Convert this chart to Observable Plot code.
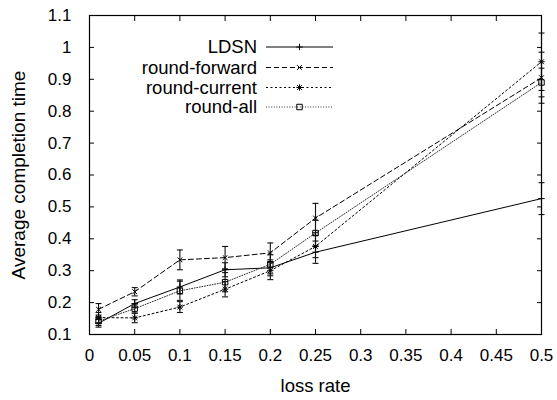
<!DOCTYPE html>
<html>
<head>
<meta charset="utf-8">
<script src="https://cdn.jsdelivr.net/npm/d3@7"></script>
<script src="https://cdn.jsdelivr.net/npm/@observablehq/plot@0.6"></script>
<style>
  html, body { margin: 0; padding: 0; background: #fff; }
  #wrap { position: relative; width: 557px; height: 400px; }
  #wrap svg { position: absolute; left: 0; top: 0; }
</style>
</head>
<body>
<div id="wrap"></div>
<script>
// ---- data ----
const lossRates = [0.01, 0.05, 0.1, 0.15, 0.2, 0.25, 0.5];
const seriesNames = ["LDSN", "round-forward", "round-current", "round-all"];
const ldsn        = [0.135, 0.197, 0.249, 0.303, 0.309, 0.358, 0.526];
const ldsnErr     = [0.012, 0.012, 0.022, 0.022, 0.025, 0.035, 0.05];
const roundForward    = [0.179, 0.234, 0.334, 0.341, 0.356, 0.465, 0.905];
const roundForwardErr = [0.018, 0.013, 0.031, 0.035, 0.031, 0.046, 0.08];
const roundCurrent    = [0.153, 0.152, 0.186, 0.242, 0.300, 0.376, 0.955];
const roundCurrentErr = [0.016, 0.015, 0.017, 0.024, 0.028, 0.035, 0.09];
const roundAll    = [0.142, 0.181, 0.237, 0.264, 0.320, 0.418, 0.890];
const roundAllErr = [0.014, 0.014, 0.03, 0.03, 0.03, 0.04, 0.045];
const xTicks = [0, 0.05, 0.1, 0.15, 0.2, 0.25, 0.3, 0.35, 0.4, 0.45, 0.5];
const yTicks = [0.1, 0.2, 0.3, 0.4, 0.5, 0.6, 0.7, 0.8, 0.9, 1, 1.1];
const xLabel = "loss rate";
const yLabel = "Average completion time";

// ---- custom stroke symbols ----
const rad = s => Math.sqrt(s / Math.PI);
const symPlus = {draw(c, s) { const r = rad(s); c.moveTo(-r, 0); c.lineTo(r, 0); c.moveTo(0, -r); c.lineTo(0, r); }};
const symTimes = {draw(c, s) { const r = rad(s) * 0.75; c.moveTo(-r, -r); c.lineTo(r, r); c.moveTo(-r, r); c.lineTo(r, -r); }};
const symStar = {draw(c, s) { const r = rad(s); const q = r * 0.75; c.moveTo(-r, 0); c.lineTo(r, 0); c.moveTo(0, -r); c.lineTo(0, r); c.moveTo(-q, -q); c.lineTo(q, q); c.moveTo(-q, q); c.lineTo(q, -q); }};
const symSquare = {draw(c, s) { const r = rad(s) * 0.85; c.moveTo(-r, -r); c.lineTo(r, -r); c.lineTo(r, r); c.lineTo(-r, r); c.closePath(); }};
const symCap = {draw(c, s) { const r = rad(s); c.moveTo(-r, 0); c.lineTo(r, 0); }};

const styles = [
  {name: seriesNames[0], vals: ldsn, errs: ldsnErr, dash: null, stroke: "#000", sym: symPlus},
  {name: seriesNames[1], vals: roundForward, errs: roundForwardErr, dash: "5,3", stroke: "#000", sym: symTimes},
  {name: seriesNames[2], vals: roundCurrent, errs: roundCurrentErr, dash: "2,2.5", stroke: "#000", sym: symStar},
  {name: seriesNames[3], vals: roundAll, errs: roundAllErr, dash: "1,1.6", stroke: "#333", sym: symSquare}
];

const marks = [];
for (const s of styles) {
  const rows = lossRates.map((x, i) => ({x, y: s.vals[i], lo: s.vals[i] - s.errs[i], hi: s.vals[i] + s.errs[i]}));
  marks.push(Plot.line(rows, {x: "x", y: "y", stroke: s.stroke, strokeWidth: 1, strokeDasharray: s.dash}));
  marks.push(Plot.ruleX(rows, {x: "x", y1: "lo", y2: "hi", stroke: "#111", strokeWidth: 1.1}));
  marks.push(Plot.dot(rows, {x: "x", y: "lo", symbol: symCap, r: 3, stroke: "#111", strokeWidth: 1.1}));
  marks.push(Plot.dot(rows, {x: "x", y: "hi", symbol: symCap, r: 3, stroke: "#111", strokeWidth: 1.1}));
  marks.push(Plot.dot(rows, {x: "x", y: "y", symbol: s.sym, r: 3.2, stroke: "#000", fill: "none", strokeWidth: 1}));
}

const font = "'Liberation Sans', Arial, Helvetica, sans-serif";
const chart = Plot.plot({
  width: 557,
  height: 400,
  marginLeft: 89,
  marginRight: 16,
  marginTop: 15,
  marginBottom: 66,
  style: {fontFamily: font, fontSize: "17px", color: "#000", background: "#fff", overflow: "visible"},
  x: {domain: [0, 0.5]},
  y: {domain: [0.1, 1.1]},
  marks: [
    ...marks,
    Plot.frame({stroke: "#000", strokeWidth: 1.2}),
    Plot.axisX({anchor: "bottom", ticks: xTicks, tickSize: -5, tickPadding: 19.5, tickFormat: d => String(d), label: null, fontSize: 17}),
    Plot.axisX({anchor: "top", ticks: xTicks, tickSize: -5, tickFormat: () => "", label: null}),
    Plot.axisY({anchor: "left", ticks: yTicks, tickSize: -5, tickPadding: 23, tickFormat: d => String(d), label: null, fontSize: 17}),
    Plot.axisY({anchor: "right", ticks: yTicks, tickSize: -5, tickFormat: () => "", label: null}),
    Plot.text([xLabel], {frameAnchor: "bottom", lineAnchor: "middle", textAnchor: "middle", dy: 52, fontSize: 18.5, fill: "#000"}),
    Plot.text([yLabel], {frameAnchor: "left", lineAnchor: "middle", textAnchor: "middle", dx: -71, rotate: -90, fontSize: 19, fill: "#000"})
  ]
});
document.getElementById("wrap").appendChild(chart);

// ---- legend overlay ----
const leg = d3.select("#wrap").append("svg").attr("width", 557).attr("height", 400)
  .style("font-family", font).style("pointer-events", "none");
const rowY = [47, 67.5, 87.5, 107];
const symPath = sym => { const p = d3.path(); sym.draw(p, Math.PI * 3.2 * 3.2); return p.toString(); };
styles.forEach((s, i) => {
  const y = rowY[i];
  leg.append("text").attr("x", 257).attr("y", y).attr("dy", "0.35em").attr("text-anchor", "end")
    .attr("font-size", 18.5).attr("fill", "#000").text(s.name);
  leg.append("line").attr("x1", 266).attr("x2", 333).attr("y1", y).attr("y2", y)
    .attr("stroke", s.stroke).attr("stroke-width", 1).attr("stroke-dasharray", s.dash);
  leg.append("path").attr("d", symPath(s.sym)).attr("transform", `translate(299.5,${y})`)
    .attr("fill", "none").attr("stroke", "#000");
});
</script>
</body>
</html>
